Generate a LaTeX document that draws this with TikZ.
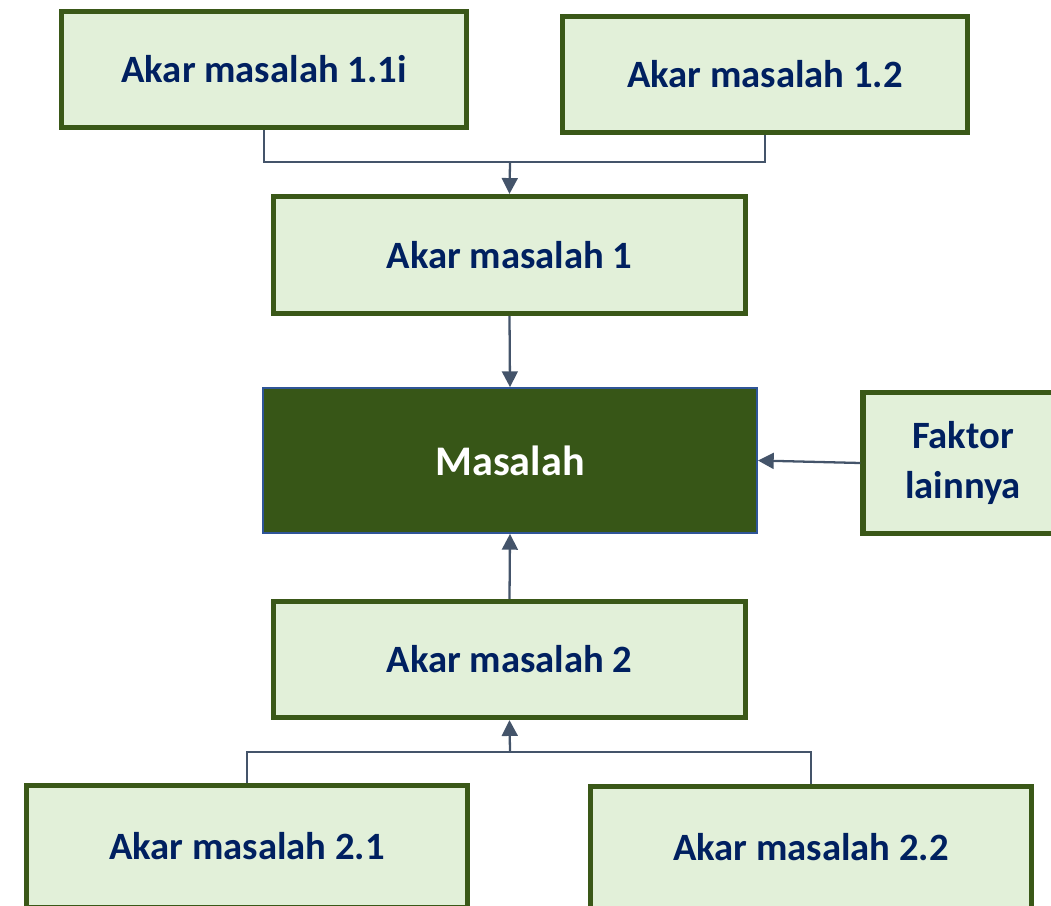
\documentclass[tikz,border=0pt]{standalone}
\usepackage{fontspec}
\setmainfont{Carlito}
\usetikzlibrary{arrows.meta}
\definecolor{root_fill}{RGB}{226, 240, 217}
\definecolor{root_line}{RGB}{58, 88, 24}
\definecolor{main_fill}{RGB}{55, 86, 23}
\definecolor{main_line}{RGB}{47, 85, 151}
\definecolor{txt_navy}{RGB}{0, 32, 96}
\definecolor{conn_grey}{RGB}{68, 84, 106}
\tikzstyle{rb}=[rectangle,fill=root_fill,draw=root_line,line width=3pt,
  text=txt_navy,font=\fontsize{22}{28}\selectfont\bfseries,align=center,
  inner sep=0pt,minimum width=8.1cm,minimum height=2.32cm]
\tikzstyle{mb}=[rectangle,fill=main_fill,draw=main_line,line width=1pt,
  text=white,font=\fontsize{24}{28}\selectfont\bfseries,
  inner sep=0pt,minimum width=9.88cm,minimum height=2.9cm]
\tikzstyle{ln}=[draw=conn_grey,line width=1.3pt]
\tikzstyle{la}=[ln,-{Triangle[width=9pt,length=9pt]}]
\tikzstyle{none}=[]
\begin{document}
\begin{tikzpicture}
    \useasboundingbox (0, 0) rectangle (21.02, -18.1);
    \clip (0, 0) rectangle (21.02, -18.1);
    \node [style=rb] (0) at (5.28, -1.39) {Akar masalah 1.1i};
    \node [style=rb] (1) at (15.3, -1.49) {Akar masalah 1.2};
    \node [style=rb, minimum width=9.44cm, minimum height=2.34cm] (2) at (10.19, -5.1) {Akar masalah 1};
    \node [style=mb] (3) at (10.2, -9.21) {Masalah};
    \node [style=rb, minimum width=4.0cm, minimum height=2.82cm] (4) at (19.26, -9.26) {Faktor\\lainnya};
    \node [style=rb, minimum width=9.44cm] (5) at (10.19, -13.19) {Akar masalah 2};
    \node [style=rb, minimum width=8.82cm, minimum height=2.44cm] (6) at (4.94, -16.93) {Akar masalah 2.1};
    \node [style=rb, minimum width=8.82cm, minimum height=2.44cm] (7) at (16.22, -16.95) {Akar masalah 2.2};
    \coordinate (8) at (10.2, -3.24);
    \coordinate (9) at (10.2, -15.04);
    \draw [style=ln] (0.south) |- (8) -| (1.south);
    \draw [style=la] (8) to (2.north);
    \draw [style=la] (2.south) to (3.north);
    \draw [style=la] (4.west) to (3.east);
    \draw [style=la] (5.north) to (3.south);
    \draw [style=ln] (6.north) |- (9) -| (7.north);
    \draw [style=la] (9) to (5.south);
\end{tikzpicture}
\end{document}
